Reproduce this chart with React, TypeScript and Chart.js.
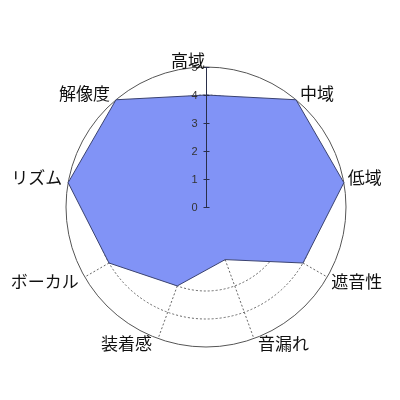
import React, { useEffect, useRef } from "react";
import { Chart, registerables } from "chart.js";

Chart.register(...registerables);

const categories = ["高域", "中域", "低域", "遮音性", "音漏れ", "装着感", "ボーカル", "リズム", "解像度"];
const values = [4, 5, 5, 4, 2, 3, 4, 5, 5];
const tickValues = [0, 1, 2, 3, 4, 5];

const labelPlugin = {
  id: "customLabels",
  afterDatasetsDraw(chart: any) {
    const scale = chart.scales.r;
    const ctx = chart.ctx;
    const cx = Math.round(scale.xCenter) + 0.5;
    const cy = scale.yCenter;
    ctx.save();
    ctx.setLineDash([]);
    // vertical tick axis
    ctx.strokeStyle = "#2a2f4a";
    ctx.lineWidth = 1;
    const top = scale.getDistanceFromCenterForValue(tickValues[tickValues.length - 1]);
    ctx.beginPath();
    ctx.moveTo(cx, cy);
    ctx.lineTo(cx, cy - top);
    ctx.stroke();
    ctx.font = "11px 'Liberation Sans', Arial, sans-serif";
    ctx.fillStyle = "#333";
    ctx.textAlign = "right";
    ctx.textBaseline = "middle";
    tickValues.forEach((v) => {
      const d = scale.getDistanceFromCenterForValue(v);
      const y = Math.round(cy - d) + 0.5;
      ctx.beginPath();
      ctx.moveTo(cx - 3, y);
      ctx.lineTo(cx + 3, y);
      ctx.stroke();
      ctx.fillText(String(v), cx - 9, y);
    });
    // point labels
    ctx.font = "17px 'Noto Sans CJK JP', sans-serif";
    ctx.fillStyle = "#111";
    categories.forEach((label, i) => {
      const p = scale.getPointPosition(i, scale.drawingArea);
      const ang = (i * 2 * Math.PI) / categories.length;
      const s = Math.sin(ang);
      const c = Math.cos(ang);
      let align: CanvasTextAlign = "right";
      let dx = -1;
      if (s > 0.01) {
        align = "left";
        dx = 4;
      } else if (s < -0.01) {
        dx = -6;
      }
      let baseline: CanvasTextBaseline = "middle";
      let dy = -5;
      if (c > 0.5) {
        baseline = "bottom";
        dy = 2;
      } else if (c < -0.3) {
        baseline = "top";
        dy = -4;
      }
      ctx.textAlign = align;
      ctx.textBaseline = baseline;
      ctx.fillText(label, p.x + dx, p.y + dy);
    });
    ctx.restore();
  },
};

export default function App() {
  const ref = useRef<HTMLCanvasElement>(null);
  useEffect(() => {
    document.body.style.margin = "0";
    const chart = new Chart(ref.current as HTMLCanvasElement, {
      type: "radar",
      data: {
        labels: categories,
        datasets: [
          {
            data: values,
            backgroundColor: "#8193f6",
            borderColor: "#3a4270",
            borderWidth: 1,
            pointRadius: 0,
            fill: true,
          },
        ],
      },
      options: {
        animation: false,
        responsive: false,
        layout: { padding: { left: 66, right: 54, top: 67, bottom: 53 } },
        plugins: { legend: { display: false }, tooltip: { enabled: false } },
        scales: {
          r: {
            min: 0,
            max: 5,
            ticks: { display: false, stepSize: 1 },
            pointLabels: { display: false },
            grid: {
              circular: true,
              color: (ctx: any) => (ctx.tick && ctx.tick.value === 5 ? "#555" : "#666"),
              lineWidth: 1,
            },
            border: {
              dash: (ctx: any) => (ctx.tick && ctx.tick.value === 5 ? [] : [2, 2]),
            } as any,
            angleLines: {
              color: (ctx: any) => (ctx.index === 0 ? "rgba(0,0,0,0)" : "#666"),
              borderDash: [2, 2],
              lineWidth: 1,
            },
          },
        },
      },
      plugins: [labelPlugin],
    });
    return () => chart.destroy();
  }, []);
  return (
    <div style={{ width: 400, height: 400 }}>
      <canvas ref={ref} width={400} height={400} />
    </div>
  );
}
